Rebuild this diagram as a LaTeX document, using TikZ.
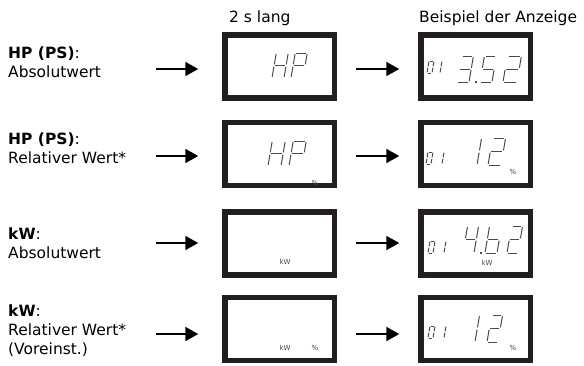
\documentclass[tikz,border=0pt]{standalone}
\usepackage{fontspec}
\setmainfont{DejaVu Sans}
\usetikzlibrary{arrows.meta}

\definecolor{frame}{HTML}{231F20}
\definecolor{lcd}{HTML}{4A4A4A}

% segment paths of a seven-segment digit
\expandafter\def\csname lcdpatha\endcsname{(TL) -- (TR)}
\expandafter\def\csname lcdpathb\endcsname{(TR) -- (MR)}
\expandafter\def\csname lcdpathc\endcsname{(MR) -- (BR)}
\expandafter\def\csname lcdpathd\endcsname{(BL) -- (BR)}
\expandafter\def\csname lcdpathe\endcsname{(ML) -- (BL)}
\expandafter\def\csname lcdpathf\endcsname{(TL) -- (ML)}
\expandafter\def\csname lcdpathg\endcsname{(ML) -- (MR)}

% \lcddigit[gap]{x}{baseline y}{height}{width}{segments}
\newcommand\lcddigit[6][1.2pt]{%
  \begin{scope}[shift={(#2,#3)}]
    \pgfmathsetmacro\lcdh{#4}%
    \pgfmathsetmacro\lcdw{#5}%
    \pgfmathsetmacro\lcds{0.17*#4}%
    \coordinate (BL) at (0,0);
    \coordinate (BR) at (\lcdw,0);
    \coordinate (ML) at (\lcds/2,-\lcdh/2);
    \coordinate (MR) at (\lcdw+\lcds/2,-\lcdh/2);
    \coordinate (TL) at (\lcds,-\lcdh);
    \coordinate (TR) at (\lcdw+\lcds,-\lcdh);
    \foreach \sg in {#6}{%
      \expandafter\let\expandafter\lcdpath\csname lcdpath\sg\endcsname
      \draw[lcdseg,shorten <=#1,shorten >=#1] \lcdpath;}
  \end{scope}}

\tikzset{
  lcdbox/.style={draw=frame, line width=5.5pt, minimum width=109.5pt,
                 minimum height=63pt, inner sep=0pt},
  lcdseg/.style={draw=lcd, line width=1pt},
  flow/.style={line width=2pt, -{Triangle[length=13pt,width=14pt]}},
  lbl/.style={anchor=west, align=left, inner sep=0pt,
              font=\fontsize{15.5}{19}\selectfont},
  head/.style={anchor=base west, inner sep=0pt, font=\fontsize{15.5}{19}\selectfont},
  unit/.style={inner sep=0pt, text=lcd, font=\fontsize{7}{8}\selectfont},
}

\begin{document}
\begin{tikzpicture}[x=1pt, y=-1pt]
  \useasboundingbox (0,0) rectangle (584,365);

  % column headings
  \node[head] (h1) at (229,22) {2 s lang};
  \node[head] (h2) at (419,22) {Beispiel der Anzeige};

  % row labels
  \node[lbl] (l1) at (8,62.5) {\textbf{HP (PS)}:\\Absolutwert};
  \node[lbl] (l2) at (8,148) {\textbf{HP (PS)}:\\Relativer Wert*};
  \node[lbl] (l3) at (8,243) {\textbf{kW}:\\Absolutwert};
  \node[lbl] (l4) at (8,331) {\textbf{kW}:\\Relativer Wert*\\(Voreinst.)};

  % display frames
  \node[lcdbox] (m1) at (279.5,66.5) {};
  \node[lcdbox] (r1) at (475.5,66.5) {};
  \node[lcdbox] (m2) at (279.5,154) {};
  \node[lcdbox] (r2) at (475.5,154) {};
  \node[lcdbox] (m3) at (279.5,243.5) {};
  \node[lcdbox] (r3) at (475.5,243.5) {};
  \node[lcdbox] (m4) at (279.5,329) {};
  \node[lcdbox] (r4) at (475.5,329) {};

  % arrows
  \foreach \r/\y in {1/69,2/156,3/243,4/334}{
    \coordinate (s\r) at (156,\y);
    \coordinate (t\r) at (356,\y);
    \draw[flow, shorten >=23.75pt] (s\r) -- (s\r -| m\r.west);
    \draw[flow, shorten >=18.75pt] (t\r) -- (t\r -| r\r.west);
  }

  % row 1: HP, then 01 3.52
  \lcddigit{272}{78}{25}{12}{b,c,e,f,g}
  \lcddigit{291}{78}{25}{12}{a,b,e,f,g}
  \lcddigit[0.6pt]{427}{73}{12}{5}{a,b,c,d,e,f}
  \lcddigit[0.6pt]{435}{73}{12}{5}{b,c}
  \lcddigit{457}{82}{26}{12}{a,b,c,d,g}
  \fill[lcd] (474.5,80.5) rectangle (476.5,82.5);
  \lcddigit{480}{82}{26}{12}{a,c,d,f,g}
  \lcddigit{503}{82}{26}{14}{a,b,d,e,g}

  % row 2: HP %, then 01 12 %
  \lcddigit{268}{166}{25}{13}{b,c,e,f,g}
  \lcddigit{289}{166}{25}{13}{a,b,e,f,g}
  \node[unit] (p2m) at (315,183) {\%};
  \lcddigit[0.6pt]{426}{164}{12}{5}{a,b,c,d,e,f}
  \lcddigit[0.6pt]{437}{164}{12}{5}{b,c}
  \lcddigit{463}{165}{27}{14}{b,c}
  \lcddigit{488}{165}{27}{13}{a,b,d,e,g}
  \node[unit] (p2r) at (513,172) {\%};

  % row 3: kW, then 01 4.b2 kW
  \node[unit] (k3m) at (285,262) {kW};
  \lcddigit[0.6pt]{428}{253}{12}{5}{a,b,c,d,e,f}
  \lcddigit[0.6pt]{439}{253}{12}{5}{b,c}
  \lcddigit{463}{253}{27}{11}{b,c,f,g}
  \fill[lcd] (479.5,251.5) rectangle (481.5,253.5);
  \lcddigit{485}{253}{27}{12}{c,d,e,f,g}
  \lcddigit{507}{253}{27}{11}{a,b,d,e,g}
  \node[unit] (k3r) at (487,263) {kW};

  % row 4: kW %, then 01 12 %
  \node[unit] (k4m) at (285,348) {kW};
  \node[unit] (p4m) at (315,348) {\%};
  \lcddigit[0.6pt]{428}{338}{12}{5}{a,b,c,d,e,f}
  \lcddigit[0.6pt]{439}{338}{12}{5}{b,c}
  \lcddigit{461}{342}{27}{14}{b,c}
  \lcddigit{487}{342}{27}{11}{a,b,d,e,g}
  \node[unit] (p4r) at (513,348) {\%};
\end{tikzpicture}
\end{document}
